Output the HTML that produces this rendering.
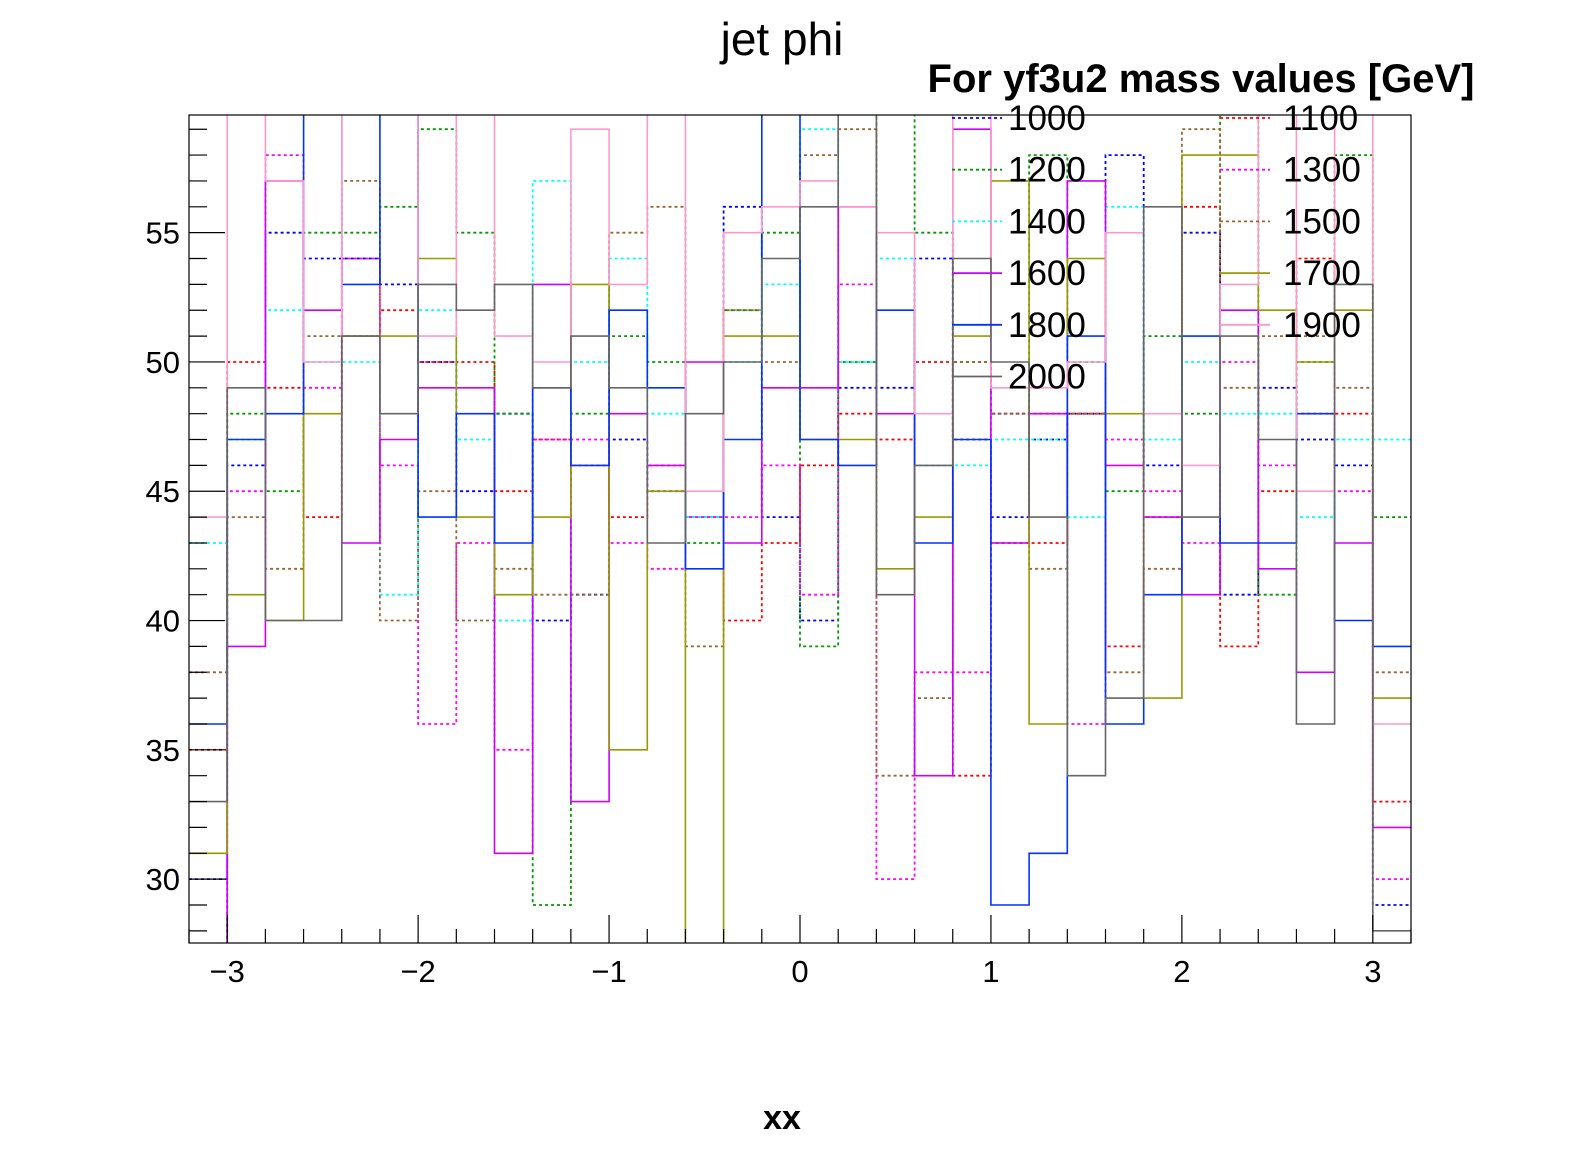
<!DOCTYPE html>
<html><head><meta charset="utf-8"><style>
body{margin:0;background:#fff;}
svg{display:block;font-family:"Liberation Sans",sans-serif;}
</style></head><body>
<svg id="chart" width="1596" height="1172" viewBox="0 0 1596 1172" xmlns="http://www.w3.org/2000/svg">
<defs><clipPath id="plotclip"><rect x="189" y="115" width="1222" height="828"/></clipPath></defs>
<rect x="0" y="0" width="1596" height="1172" fill="#fff"/>
<text x="782" y="55" font-size="46" text-anchor="middle">jet phi</text>
<g id="series" clip-path="url(#plotclip)"></g>
<rect x="189" y="115" width="1222" height="828" fill="none" stroke="#000" stroke-width="1.2"/>
<g id="axes"></g>
<text x="782" y="1129" font-size="34" font-weight="bold" text-anchor="middle">xx</text>
<g id="legend"></g>
</svg>
<script>
const seriesNames = ["1000","1100","1200","1300","1400","1500","1600","1700","1800","1900","2000"];
const seriesColors = ["#0000ff","#ff0000","#009900","#ff00ff","#00ffff","#996633","#cc00ff","#999900","#0033ff","#ff99cc","#666666"];
const seriesDashed = [true,true,true,true,true,true,false,false,false,false,false];
const xTickLabels = ["\u22123","\u22122","\u22121","0","1","2","3"];
const yTickLabels = ["30","35","40","45","50","55"];
const v1000 = [30,46,55,54,54,53,50,45,48,40,41,47,45,44,56,44,40,49,49,54,47,44,47,48,58,46,55,41,49,47,46,29];
const v1100 = [35,50,49,44,51,52,50,50,45,47,46,44,46,44,40,43,46,48,47,50,34,43,43,48,39,44,56,39,45,54,48,33];
const v1200 = [25,48,45,55,55,56,59,55,48,29,48,51,50,43,52,55,39,50,62,55,50,48,58,50,45,51,48,62,41,50,58,44];
const v1300 = [25,45,58,49,54,46,36,43,35,47,47,43,42,44,44,46,41,53,30,38,38,48,48,36,47,45,43,50,46,48,45,30];
const v1400 = [43,47,52,50,50,41,52,47,40,57,50,54,48,44,50,53,59,50,54,46,46,47,47,44,56,47,50,48,48,44,47,47];
const v1500 = [38,44,42,51,57,40,45,40,42,41,41,55,56,39,52,50,58,59,34,37,50,48,42,48,38,42,59,49,51,51,49,38];
const v1600 = [25,39,57,52,43,47,49,49,31,53,33,48,46,50,43,49,49,56,48,34,59,43,48,57,46,44,41,52,42,38,43,32];
const v1700 = [31,41,40,48,51,51,54,44,41,44,53,35,45,27,51,51,47,47,42,44,51,57,36,54,48,37,58,58,52,50,52,37];
const v1800 = [36,47,48,62,53,62,44,48,43,49,46,52,49,42,47,62,47,46,52,43,47,29,31,51,36,41,51,43,43,48,40,39];
const v1900 = [44,62,57,50,62,62,51,62,51,50,59,53,62,45,55,56,57,56,55,48,62,49,49,50,55,48,46,53,62,45,62,36];
const v2000 = [33,49,40,40,51,48,53,52,53,49,51,49,43,48,50,54,56,62,41,46,54,50,44,34,37,56,44,51,47,36,53,28];
const seriesValues = [v1000,v1100,v1200,v1300,v1400,v1500,v1600,v1700,v1800,v1900,v2000];

const X0=189, X1=1411, Y0=115, Y1=943, XMIN=-3.2, XMAX=3.2, YMIN=27.53, YMAX=59.55;
const xs = v => X0 + (v - XMIN) / (XMAX - XMIN) * (X1 - X0);
const ys = v => Y1 - (v - YMIN) / (YMAX - YMIN) * (Y1 - Y0);
const NS = "http://www.w3.org/2000/svg";
const g = document.getElementById('series');

seriesValues.forEach((vals, si) => {
  const n = vals.length, w = (XMAX - XMIN) / n;
  let d = '';
  vals.forEach((v, i) => {
    const xa = xs(XMIN + i * w), xb = xs(XMIN + (i + 1) * w), y = ys(v);
    d += (i === 0 ? 'M' : 'L') + xa.toFixed(1) + ',' + y.toFixed(1) + 'L' + xb.toFixed(1) + ',' + y.toFixed(1);
  });
  const p = document.createElementNS(NS, 'path');
  p.setAttribute('d', d);
  p.setAttribute('fill', 'none');
  p.setAttribute('stroke', seriesColors[si]);
  p.setAttribute('stroke-width', seriesDashed[si] ? '1.8' : '1.6');
  if (seriesDashed[si]) p.setAttribute('stroke-dasharray', '3,3');
  
  
  g.appendChild(p);
});

const ax = document.getElementById('axes');
function line(x1,y1,x2,y2){
  const l = document.createElementNS(NS,'line');
  l.setAttribute('x1',x1);l.setAttribute('y1',y1);l.setAttribute('x2',x2);l.setAttribute('y2',y2);
  l.setAttribute('stroke','#000');l.setAttribute('stroke-width','1.2');
  
  
  ax.appendChild(l);
}
function text(x,y,s,anchor){
  const t = document.createElementNS(NS,'text');
  t.setAttribute('x',x);t.setAttribute('y',y);t.setAttribute('font-size','31');t.setAttribute('text-anchor',anchor);
  t.textContent = s;
  
  
  ax.appendChild(t);
}
for (let k = 0; k <= 32; k++) {
  const v = XMIN + k * 0.2, x = xs(v);
  const major = Math.abs(v - Math.round(v)) < 1e-6;
  line(x, Y1, x, Y1 - (major ? 28 : 14));
}
xTickLabels.forEach((s, i) => text(xs(i - 3), 982, s, 'middle'));
for (let v = 28; v <= 59; v++) {
  const y = ys(v);
  line(X0, y, X0 + (v % 5 === 0 ? 36 : 18), y);
}
yTickLabels.forEach((s, i) => text(180, ys(30 + 5 * i) + 11, s, 'end'));

const lg = document.getElementById('legend');
const tt = document.createElementNS(NS,'text');
tt.setAttribute('x','1201');tt.setAttribute('y','92');tt.setAttribute('font-size','40');tt.setAttribute('font-weight','bold');tt.setAttribute('text-anchor','middle');
tt.textContent = 'For yf3u2 mass values [GeV]';


lg.appendChild(tt);
seriesNames.forEach((nm, i) => {
  const col = i % 2, row = Math.floor(i / 2);
  const lx = col ? 1220 : 952, ly = 118 + row * 51.7;
  const l = document.createElementNS(NS,'line');
  l.setAttribute('x1',lx);l.setAttribute('x2',lx+50);l.setAttribute('y1',ly);l.setAttribute('y2',ly);
  l.setAttribute('stroke',seriesColors[i]);l.setAttribute('stroke-width','1.8');
  if (seriesDashed[i]) l.setAttribute('stroke-dasharray','3,3');
  
  
  lg.appendChild(l);
  const t = document.createElementNS(NS,'text');
  t.setAttribute('x', col ? 1283 : 1008);t.setAttribute('y', ly + 12);t.setAttribute('font-size','35');
  t.textContent = nm;
  
  
  lg.appendChild(t);
});
</script>
</body></html>
